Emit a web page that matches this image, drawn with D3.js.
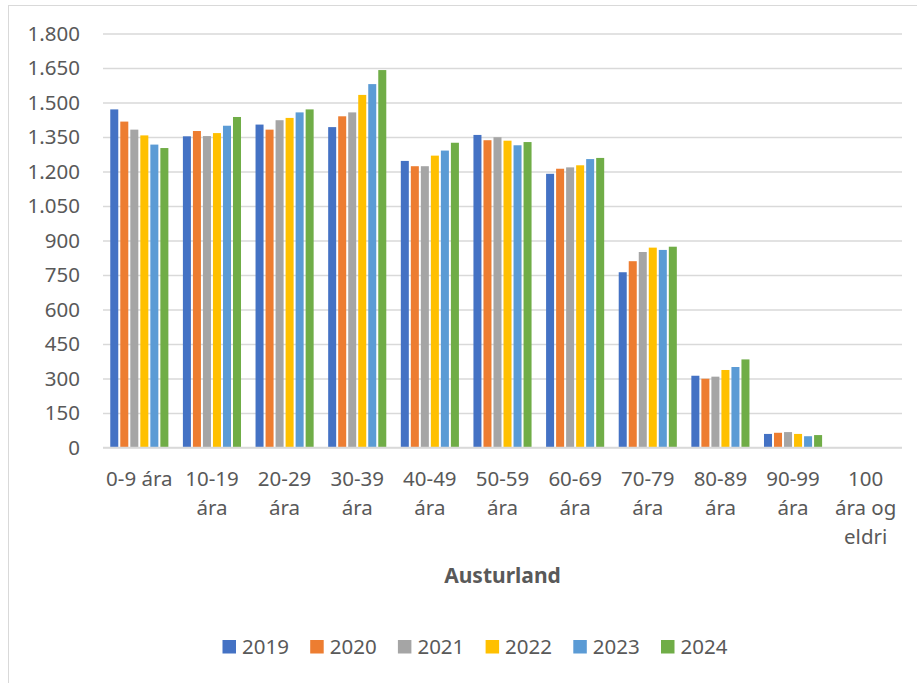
<!DOCTYPE html>
<html>
<head>
<meta charset="utf-8">
<script src="https://cdn.jsdelivr.net/npm/d3@7"></script>
<style>
  body { margin: 0; background: #fff; }
  text { font-family: "Noto Sans", sans-serif; fill: #595959; }
</style>
</head>
<body>
<svg id="chart" width="917" height="683"></svg>
<script>
// age groups (x categories) and their wrapped tick labels
var categories = ["0-9", "10-19", "20-29", "30-39", "40-49", "50-59", "60-69", "70-79", "80-89", "90-99", "100+"];
var tickLabels = [["0-9 ára"], ["10-19", "ára"], ["20-29", "ára"], ["30-39", "ára"], ["40-49", "ára"],
	["50-59", "ára"], ["60-69", "ára"], ["70-79", "ára"], ["80-89", "ára"], ["90-99", "ára"],
	["100", "ára og", "eldri"]];

var years = ["2019", "2020", "2021", "2022", "2023", "2024"];
var colors = ["#4472c4", "#ed7d31", "#a5a5a5", "#ffc000", "#5b9bd5", "#70ad47"];

// values per year, one per age group
var v2019 = [1470, 1353, 1404, 1393, 1246, 1359, 1190, 762, 312, 59, 0];
var v2020 = [1417, 1376, 1382, 1440, 1223, 1336, 1212, 810, 299, 64, 0];
var v2021 = [1382, 1354, 1423, 1457, 1223, 1349, 1218, 850, 308, 67, 0];
var v2022 = [1357, 1367, 1433, 1533, 1269, 1334, 1227, 869, 337, 59, 0];
var v2023 = [1317, 1399, 1457, 1580, 1291, 1314, 1254, 859, 350, 49, 0];
var v2024 = [1302, 1437, 1470, 1641, 1325, 1328, 1259, 873, 383, 54, 0];
var series = [v2019, v2020, v2021, v2022, v2023, v2024];

var yTicks = [0, 150, 300, 450, 600, 750, 900, 1050, 1200, 1350, 1500, 1650, 1800];
var title = "Austurland";

var svg = d3.select("#chart");

// chart frame (light border, only top/left visible in picture)
svg.append("rect")
	.attr("x", 8.5).attr("y", 5.5)
	.attr("width", 920).attr("height", 700)
	.attr("fill", "none")
	.attr("stroke", "#d9d9d9")
	.attr("stroke-width", 1);

var plotLeft = 103, plotRight = 902, plotTop = 33.5, plotBottom = 447.5;

var x0 = d3.scaleBand().domain(categories).range([plotLeft, plotRight])
	.paddingInner(0.2).paddingOuter(0.1);
var x1 = d3.scaleBand().domain(years).range([0, x0.bandwidth()])
	.paddingInner(0.2).paddingOuter(0);
var y = d3.scaleLinear().domain([0, 1800]).range([plotBottom, plotTop]);

var locale = d3.formatLocale({ decimal: ",", thousands: ".", grouping: [3], currency: ["", ""] });
var fmt = locale.format(",d");

// gridlines + y labels
var yAxis = d3.axisLeft(y).tickValues(yTicks).tickFormat(fmt)
	.tickSize(-(plotRight - plotLeft)).tickPadding(23);

var gy = svg.append("g").attr("transform", "translate(" + plotLeft + ",0)").call(yAxis);
gy.select(".domain").remove();
gy.selectAll(".tick line").attr("stroke", "#d9d9d9").attr("stroke-width", 1.5);
gy.selectAll(".tick text")
	.attr("font-size", "20.5px")
	.attr("fill", "#595959")
	.style("font-family", "'Noto Sans', sans-serif");

// bars
var groups = svg.append("g").selectAll("g").data(categories).enter().append("g")
	.attr("transform", function(d) { return "translate(" + x0(d) + ",0)"; });

groups.selectAll("rect")
	.data(function(d, i) {
		return years.map(function(yr, j) { return { year: yr, value: series[j][i], k: j }; });
	})
	.enter().append("rect")
	.attr("x", function(d) { return x1(d.year); })
	.attr("y", function(d) { return y(d.value); })
	.attr("width", x1.bandwidth())
	.attr("height", function(d) { return y(0) - y(d.value); })
	.attr("fill", function(d) { return colors[d.k]; });

// baseline
svg.append("line")
	.attr("x1", plotLeft).attr("x2", plotRight)
	.attr("y1", y(0)).attr("y2", y(0))
	.attr("stroke", "#d9d9d9").attr("stroke-width", 1.5);

// x tick labels
var xl = svg.append("g").selectAll("text").data(categories).enter().append("text")
	.attr("text-anchor", "middle")
	.attr("font-size", "20.5px")
	.attr("x", function(d) { return x0(d) + x0.bandwidth() / 2; })
	.attr("y", 486);

xl.each(function(d, i) {
	var t = d3.select(this);
	tickLabels[i].forEach(function(line, k) {
		t.append("tspan")
			.attr("x", x0(d) + x0.bandwidth() / 2)
			.attr("dy", k == 0 ? 0 : 29)
			.text(line);
	});
});

// axis title
svg.append("text")
	.attr("x", (plotLeft + plotRight) / 2)
	.attr("y", 583)
	.attr("text-anchor", "middle")
	.attr("font-size", "21px")
	.attr("font-weight", "bold")
	.text(title);

// legend
var itemW = 87.7;
var legendX = 222.5, legendY = 640;
var legend = svg.append("g").selectAll("g").data(years).enter().append("g")
	.attr("transform", function(d, i) { return "translate(" + (legendX + i * itemW) + "," + legendY + ")"; });

legend.append("rect")
	.attr("width", 13.5).attr("height", 13.5)
	.attr("fill", function(d, i) { return colors[i]; });

legend.append("text")
	.attr("x", 19.5).attr("y", 14)
	.attr("font-size", "20.5px")
	.text(function(d) { return d; });
</script>
</body>
</html>
